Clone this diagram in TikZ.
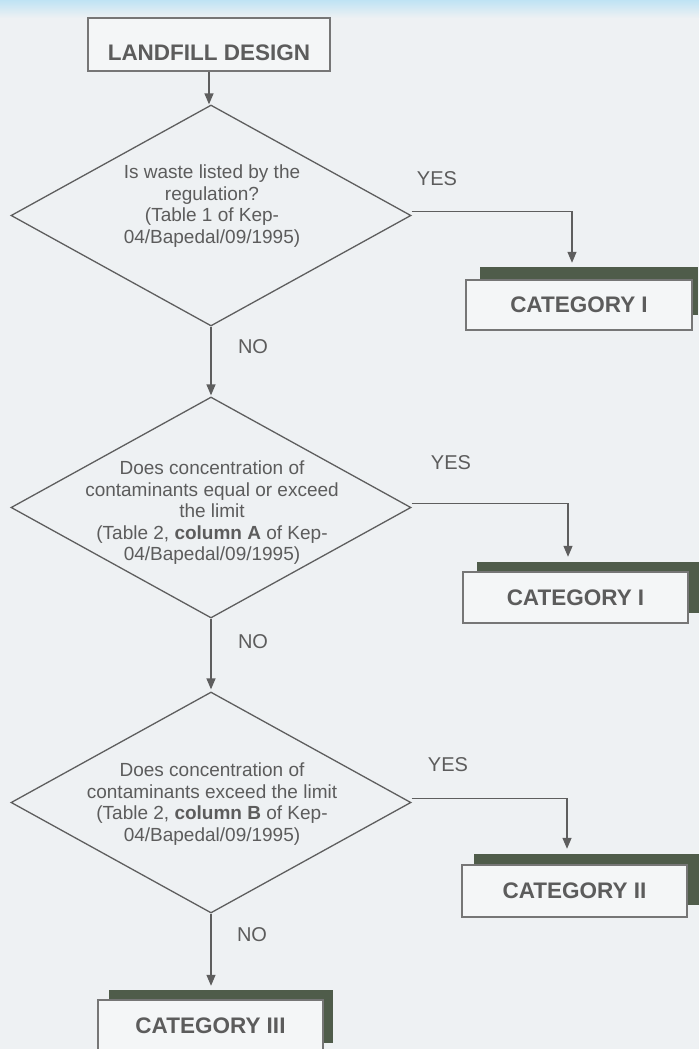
\documentclass[tikz,border=0pt]{standalone}
\usepackage{fontspec}
\setmainfont{Liberation Sans}
\usetikzlibrary{shapes.geometric,arrows.meta,calc}
\definecolor{bg}{HTML}{EEF1F3}
\definecolor{topblue}{HTML}{BFE3F4}
\definecolor{ln}{HTML}{5E5E5E}
\definecolor{tx}{HTML}{5C5C5C}
\definecolor{shad}{HTML}{4F5C4A}
\definecolor{boxfill}{HTML}{F4F6F7}
\begin{document}
\begin{tikzpicture}[x=1pt,y=-1pt,
 dia/.style={diamond, draw=ln, line width=1.3pt, minimum width=400pt, minimum height=221pt, inner sep=0pt},
 dtext/.style={text=tx, align=center, font=\fontsize{19}{21.5}\selectfont, inner sep=0pt},
 catbox/.style={draw=ln!85, line width=1.2pt, fill=boxfill, inner sep=0pt, text=tx, font=\fontsize{22.5}{24}\selectfont\bfseries},
 shadowbox/.style={fill=shad, inner sep=0pt},
 lbl/.style={text=tx, font=\fontsize{20}{22}\selectfont, inner sep=0pt},
 arr/.style={draw=ln, line width=1.3pt, -{Triangle[length=11pt,width=9pt]}},
]
\useasboundingbox (0,0) rectangle (699,1049);
\fill[bg] (0,0) rectangle (699,1049);
\shade[top color=topblue, bottom color=bg] (0,0) rectangle (699,18);

% start box
\node[catbox, minimum width=242pt, minimum height=53pt, text height=32pt, text depth=0pt] (land) at (209,44.5) {LANDFILL DESIGN};

% decisions
\node[dia] (d1) at (211,215.5) {};
\node[dtext] (q1) at (212,206) {Is waste listed by the\\regulation?\\(Table 1 of Kep-\\04/Bapedal/09/1995)};
\node[dia] (d2) at (211,507.5) {};
\node[dtext] (q2) at (212,513) {Does concentration of\\contaminants equal or exceed\\the limit\\(Table 2, \textbf{column A} of Kep-\\04/Bapedal/09/1995)};
\node[dia] (d3) at (211,802.5) {};
\node[dtext] (q3) at (212,804) {Does concentration of\\contaminants exceed the limit\\(Table 2, \textbf{column B} of Kep-\\04/Bapedal/09/1995)};

% shadows
\node[shadowbox, minimum width=218pt, minimum height=48pt] (s1) at (589,291) {};
\node[shadowbox, minimum width=222pt, minimum height=51pt] (s2) at (588,587.5) {};
\node[shadowbox, minimum width=225pt, minimum height=51pt] (s4) at (586.5,879.5) {};
\node[shadowbox, minimum width=224pt, minimum height=53pt] (s3) at (221,1016.5) {};

% category boxes
\node[catbox, minimum width=226pt, minimum height=50pt] (c1) at (579,305) {CATEGORY I};
\node[catbox, minimum width=225pt, minimum height=51pt] (c2) at (575.5,597.5) {CATEGORY I};
\node[catbox, minimum width=225pt, minimum height=52pt] (c4) at (574.5,891) {CATEGORY II};
\node[catbox, minimum width=225pt, minimum height=52pt] (c3) at (210.5,1026) {CATEGORY III};

% connectors
\coordinate (t1) at (572,0);
\coordinate (t2) at (568,0);
\coordinate (t3) at (567,0);
\draw[arr] (land.south) -- (land.south |- d1.north);
\draw[arr, shorten >=1pt] (d1.south) -- (d1.south |- d2.north);
\draw[arr, shorten >=2pt] (d2.south) -- (d2.south |- d3.north);
\draw[arr, shorten >=4pt] (d3.south) -- (d3.south |- s3.north);
\draw[arr, shorten >=4pt] ([yshift=4pt]d1.east) -| (t1 |- s1.north);
\draw[arr, shorten >=5pt] ([yshift=4pt]d2.east) -| (t2 |- s2.north);
\draw[arr, shorten >=5pt] ([yshift=4pt]d3.east) -| (t3 |- s4.north);

% labels
\node[lbl] (y1) at (437,179) {YES};
\node[lbl] (y2) at (451,463) {YES};
\node[lbl] (y3) at (448,765) {YES};
\node[lbl] (n1) at (253,347) {NO};
\node[lbl] (n2) at (253,642) {NO};
\node[lbl] (n3) at (252,935) {NO};
\end{tikzpicture}
\end{document}
